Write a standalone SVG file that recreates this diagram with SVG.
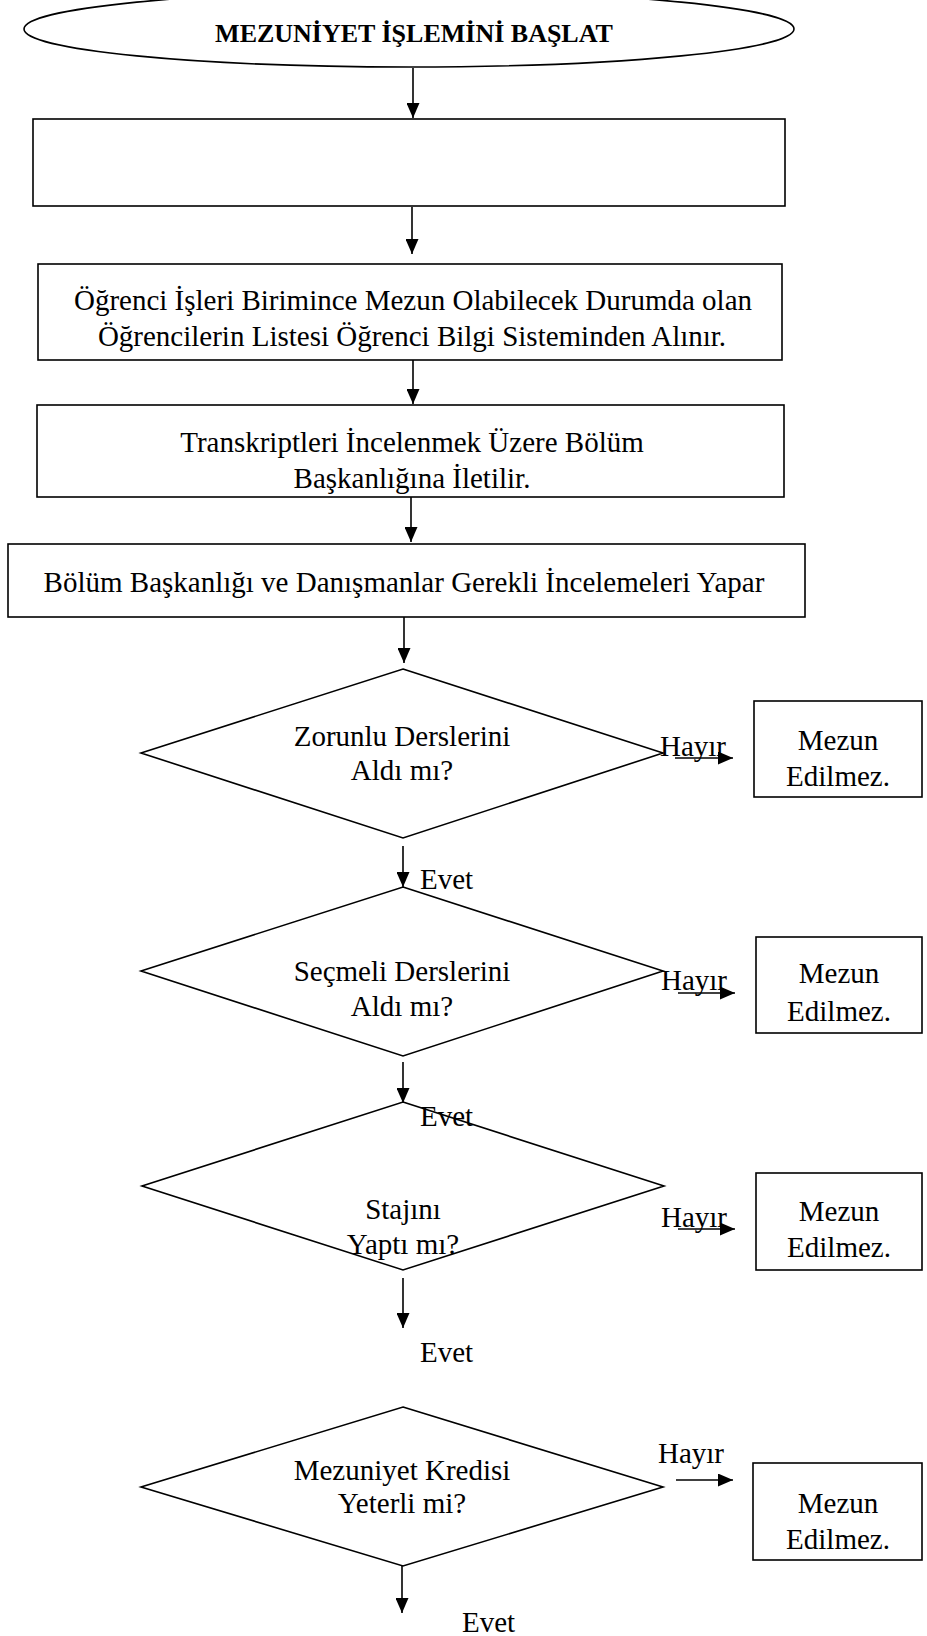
<svg xmlns="http://www.w3.org/2000/svg" width="927" height="1636" viewBox="0 0 927 1636">
<style>
.shape{fill:#fff;stroke:#000;stroke-width:1.6}
.t{font-family:"Liberation Serif","Times New Roman",serif;font-size:29px;fill:#000}
.c{text-anchor:middle}
.title{font-family:"Liberation Serif","Times New Roman",serif;font-size:26px;font-weight:bold;fill:#000;text-anchor:middle}
.ln{stroke:#000;stroke-width:1.6;fill:none;marker-end:url(#ah)}
</style>
<defs>
<marker id="ah" markerUnits="userSpaceOnUse" markerWidth="15" markerHeight="13" refX="15" refY="6.5" orient="auto">
<path d="M0,0 L15,6.5 L0,13 z" fill="#000"/>
</marker>
</defs>
<rect width="927" height="1636" fill="#fff"/>
<g id="start">
<ellipse class="shape" cx="409" cy="29" rx="385" ry="38"/>
<text class="title" x="414" y="42">MEZUNİYET İŞLEMİNİ BAŞLAT</text>
</g>
<g id="step1">
<rect class="shape" x="33" y="119" width="752" height="87"/>
</g>
<g id="step2">
<rect class="shape" x="38" y="264" width="744" height="96"/>
<text class="t c" x="413" y="310">Öğrenci İşleri Birimince Mezun Olabilecek Durumda olan</text>
<text class="t c" x="412" y="346">Öğrencilerin Listesi Öğrenci Bilgi Sisteminden Alınır.</text>
</g>
<g id="step3">
<rect class="shape" x="37" y="405" width="747" height="92"/>
<text class="t c" x="412" y="452">Transkriptleri İncelenmek Üzere Bölüm</text>
<text class="t c" x="412" y="488">Başkanlığına İletilir.</text>
</g>
<g id="step4">
<rect class="shape" x="8" y="544" width="797" height="73"/>
<text class="t c" x="404" y="592">Bölüm Başkanlığı ve Danışmanlar Gerekli İncelemeleri Yapar</text>
</g>
<g id="dec1">
<polygon class="shape" points="403,669 663,753 403,838 141,753"/>
<text class="t c" x="402" y="746">Zorunlu Derslerini</text>
<text class="t c" x="402" y="780">Aldı mı?</text>
</g>
<g id="end1">
<rect class="shape" x="754" y="701" width="168" height="96"/>
<text class="t c" x="838" y="750">Mezun</text>
<text class="t c" x="838" y="786">Edilmez.</text>
</g>
<g id="dec2">
<polygon class="shape" points="403,887 663,971 403,1056 141,971"/>
<text class="t c" x="402" y="981">Seçmeli Derslerini</text>
<text class="t c" x="402" y="1016">Aldı mı?</text>
</g>
<g id="end2">
<rect class="shape" x="756" y="937" width="166" height="96"/>
<text class="t c" x="839" y="983">Mezun</text>
<text class="t c" x="839" y="1021">Edilmez.</text>
</g>
<g id="dec3">
<polygon class="shape" points="403,1102 664,1186 403,1270 142,1186"/>
<text class="t c" x="403" y="1219">Stajını</text>
<text class="t c" x="403" y="1254">Yaptı mı?</text>
</g>
<g id="end3">
<rect class="shape" x="756" y="1173" width="166" height="97"/>
<text class="t c" x="839" y="1221">Mezun</text>
<text class="t c" x="839" y="1257">Edilmez.</text>
</g>
<g id="dec4">
<polygon class="shape" points="403,1407 663,1487 403,1566 141,1487"/>
<text class="t c" x="402" y="1480">Mezuniyet Kredisi</text>
<text class="t c" x="402" y="1513">Yeterli mi?</text>
</g>
<g id="end4">
<rect class="shape" x="753" y="1463" width="169" height="97"/>
<text class="t c" x="838" y="1513">Mezun</text>
<text class="t c" x="838" y="1549">Edilmez.</text>
</g>
<g id="connectors">
<line class="ln" x1="413" y1="68" x2="413" y2="118"/>
<line class="ln" x1="412" y1="207" x2="412" y2="254"/>
<line class="ln" x1="413" y1="360" x2="413" y2="404"/>
<line class="ln" x1="411" y1="497" x2="411" y2="542"/>
<line class="ln" x1="404" y1="617" x2="404" y2="663"/>
<line class="ln" x1="403" y1="846" x2="403" y2="887"/>
<line class="ln" x1="403" y1="1062" x2="403" y2="1103"/>
<line class="ln" x1="403" y1="1278" x2="403" y2="1328"/>
<line class="ln" x1="402" y1="1566" x2="402" y2="1613"/>
<line class="ln" x1="675" y1="758" x2="733" y2="758"/>
<line class="ln" x1="678" y1="993" x2="735" y2="993"/>
<line class="ln" x1="678" y1="1229" x2="735" y2="1229"/>
<line class="ln" x1="676" y1="1480" x2="733" y2="1480"/>
<text class="t" x="660" y="756">Hayır</text>
<text class="t" x="661" y="990">Hayır</text>
<text class="t" x="661" y="1227">Hayır</text>
<text class="t" x="658" y="1463">Hayır</text>
<text class="t" x="420" y="889">Evet</text>
<text class="t" x="420" y="1126">Evet</text>
<text class="t" x="420" y="1362">Evet</text>
<text class="t" x="462" y="1632">Evet</text>
</g>
</svg>
